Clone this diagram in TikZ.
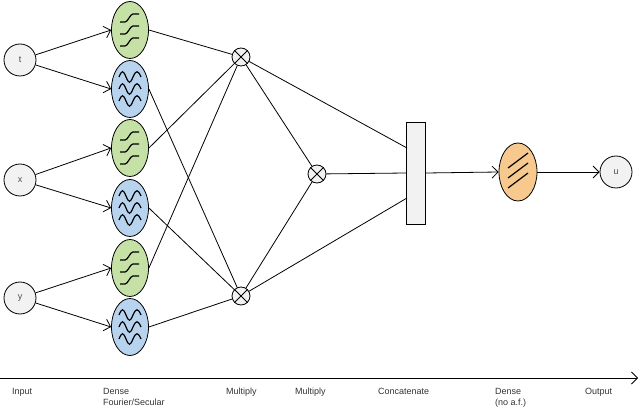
\documentclass[tikz,border=0pt]{standalone}
\usepackage{fontspec}
\setmainfont{Liberation Sans}
\usetikzlibrary{arrows.meta,positioning,shapes.geometric,calc}
\definecolor{greenfill}{HTML}{C5E1A5}
\definecolor{bluefill}{HTML}{B7D3EE}
\definecolor{orangefill}{HTML}{F8C98E}
\definecolor{greyfill}{HTML}{F2F2F2}
\tikzset{
    inp/.style={circle, draw, thick, fill=greyfill, minimum size=32pt, inner sep=0pt, font=\small, text=black!70},
    secular/.style={ellipse, draw, thick, fill=greenfill, minimum width=37pt, minimum height=57pt},
    fourier/.style={ellipse, draw, thick, fill=bluefill, minimum width=37pt, minimum height=57pt},
    mult/.style={circle, draw, thick, fill=greyfill, minimum size=18pt, inner sep=0pt},
    ar/.style={-{Straight Barb[length=6pt]}, thick},
    ln/.style={thick},
    lab/.style={font=\small, anchor=north west, align=left, inner sep=0pt, text=black!80}
}
\newcommand{\stepglyph}[1]{%
  \foreach \dy in {-12,0,12}
    \draw[very thick] ($(#1)+(-10,\dy+4)$) -- ++(5,0) .. controls +(3,0) and +(-3,0) .. ++(8,-8) -- ++(6,0);}
\newcommand{\waveglyph}[1]{%
  \foreach \dy in {-12,0,12}
    \draw[very thick] ($(#1)+(-11,\dy)$) .. controls +(3,-7) and +(-3,-7) .. ++(7,0) .. controls +(3,7) and +(-3,7) .. ++(7,0) .. controls +(3,-7) and +(-3,-7) .. ++(8,0);}
\begin{document}
\begin{tikzpicture}[x=1pt,y=-1pt]
\useasboundingbox (0,0) rectangle (640,414);
% inputs
\node[inp] (t) at (20,60) {t};
\node[inp] (x) at (20,180) {x};
\node[inp] (y) at (20,298) {y};
% dense fourier / secular
\node[secular] (s1) at (130,30) {};
\node[fourier] (f1) at (130,89) {};
\node[secular] (s2) at (130,148) {};
\node[fourier] (f2) at (130,208) {};
\node[secular] (s3) at (130,268) {};
\node[fourier] (f3) at (130,327) {};
\foreach \n in {s1,s2,s3} {\stepglyph{\n}}
\foreach \n in {f1,f2,f3} {\waveglyph{\n}}
% multiply
\node[mult] (m1) at (241,57) {};
\node[mult] (m2) at (241,296) {};
\node[mult] (m3) at (317,174) {};
\foreach \m in {m1,m2,m3} {
  \draw[thick] (\m.north west) -- (\m.south east);
  \draw[thick] (\m.north east) -- (\m.south west);}
% concatenate
\node[rectangle, draw, thick, fill=greyfill, minimum width=19pt, minimum height=102pt, inner sep=0pt] (cat) at (416,173) {};
\coordinate (cattop) at (407,148);
\coordinate (catbot) at (407,198);
% dense and output
\node[ellipse, draw, thick, fill=orangefill, minimum width=38pt, minimum height=58pt] (d) at (518,172) {};
\foreach \dy in {-10,0,10} \draw[very thick] ($(d)+(-10,\dy+6)$) -- ++(20,-15);
\node[inp] (u) at (616,172) {u};
% connectors
\draw[ar] (t) -- (s1.west);
\draw[ar] (t) -- (f1.west);
\draw[ar] (x) -- (s2.west);
\draw[ar] (x) -- (f2.west);
\draw[ar] (y) -- (s3.west);
\draw[ar] (y) -- (f3.west);
\foreach \n in {s1,s2,s3} \draw[ln] (\n.east) -- (m1);
\foreach \n in {f1,f2,f3} \draw[ln] (\n.east) -- (m2);
\draw[ln] (m1) -- (m3);
\draw[ln] (m2) -- (m3);
\draw[ln] (m1) -- (cattop);
\draw[ln] (m2) -- (catbot);
\draw[ln] (m3) -- (cat.west);
\draw[ar] (cat.east) -- (d.west);
\draw[ar] (d.east) -- (u.west);
% axis
\coordinate (a0) at (0,378);
\coordinate (a1) at (638,378);
\draw[ar] (a0) -- (a1);
\node[lab] (l1) at (12,388) {Input};
\node[lab] (l2) at (103,388) {Dense\\Fourier/Secular};
\node[lab] (l3) at (226,388) {Multiply};
\node[lab] (l4) at (295,388) {Multiply};
\node[lab] (l5) at (378,388) {Concatenate};
\node[lab] (l6) at (495,388) {Dense\\(no a.f.)};
\node[lab] (l7) at (585,388) {Output};
\end{tikzpicture}
\end{document}
